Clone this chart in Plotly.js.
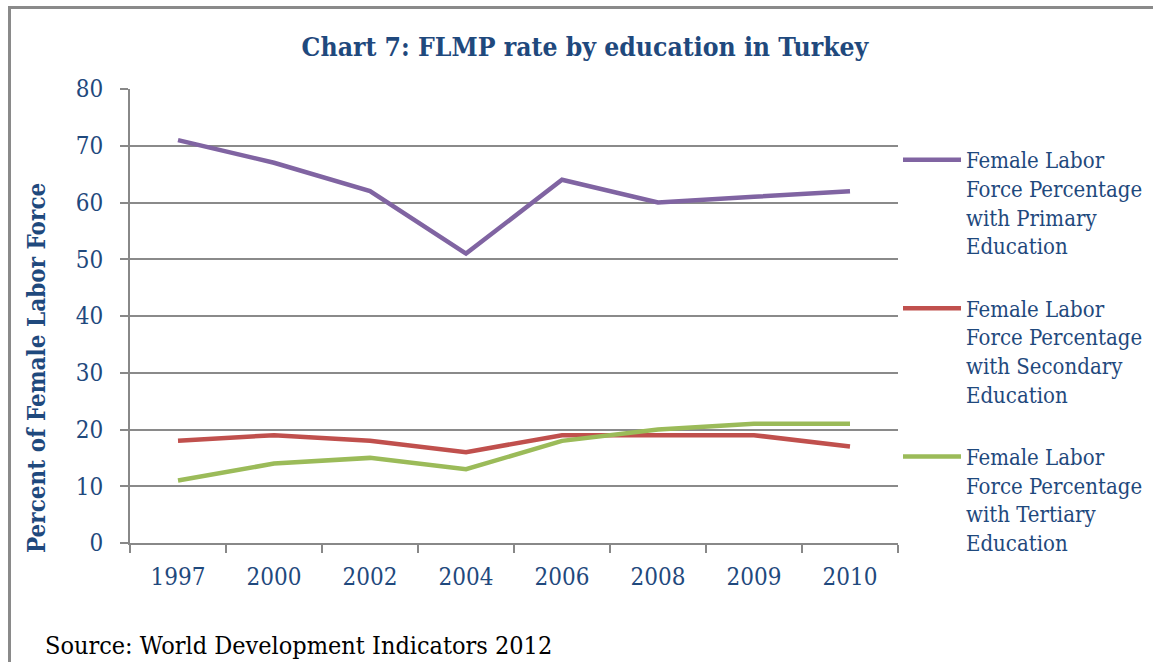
<!DOCTYPE html>
<html>
<head>
<meta charset="utf-8">
<script src="https://cdn.plot.ly/plotly-3.0.1.min.js"></script>
<style>
html,body{margin:0;padding:0;background:#fff;}
#wrap{position:relative;width:1153px;height:662px;overflow:hidden;}
#chart{position:absolute;left:0;top:0;width:1153px;height:662px;}
#frame{position:absolute;left:8px;top:6px;width:1200px;height:700px;border-top:3px solid #8a8a8a;border-left:3px solid #8a8a8a;pointer-events:none;}
</style>
</head>
<body>
<div id="wrap"><div id="chart"></div><div id="frame"></div></div>
<script>
var years = ["1997","2000","2002","2004","2006","2008","2009","2010"];
var primary = [71, 67, 62, 51, 64, 60, 61, 62];
var secondary = [18, 19, 18, 16, 19, 19, 19, 17];
var tertiary = [11, 14, 15, 13, 18, 20, 21, 21];
var seriesNames = [
  "Female Labor<br>Force Percentage<br>with Primary<br>Education",
  "Female Labor<br>Force Percentage<br>with Secondary<br>Education",
  "Female Labor<br>Force Percentage<br>with Tertiary<br>Education"
];
var titleText = "Chart 7: FLMP rate by education in Turkey";
var yTitle = "Percent of Female Labor Force";
var sourceText = "Source: World Development Indicators 2012";

var FONT = "DejaVu Serif Condensed, DejaVu Serif, serif";
var BLUE = "#1F497D";
var colors = ["#8064A2", "#C0504D", "#9BBB59"];
var vals = [primary, secondary, tertiary];

var traces = vals.map(function(v, i){
  return {x: years, y: v, type: "scatter", mode: "lines", name: seriesNames[i],
    legendgroup: "g" + i, line: {color: colors[i], width: 4.5}};
});

var layout = {
  width: 1153, height: 662,
  margin: {l: 130, r: 255, t: 89, b: 119, autoexpand: false},
  paper_bgcolor: "#fff", plot_bgcolor: "#fff",
  font: {family: FONT, color: BLUE},
  title: {text: "<b>" + titleText + "</b>", font: {family: FONT, size: 26.3, color: BLUE},
    x: 585/1153, xanchor: "center", y: 1 - 47/662, yanchor: "middle"},
  xaxis: {type: "category", range: [-0.5, 7.5], tickson: "boundaries", ticks: "outside",
    ticklen: 8, tickwidth: 2, tickcolor: "#888", showline: true, linecolor: "#888", linewidth: 2,
    showgrid: false, tickfont: {size: 24, color: BLUE, family: FONT}, ticklabelstandoff: 11,
    fixedrange: true},
  yaxis: {range: [0, 80], dtick: 10, ticks: "outside", ticklen: 8, tickwidth: 2, tickcolor: "#888",
    showline: true, linecolor: "#888", linewidth: 2, showgrid: true, gridcolor: "#8a8a8a", gridwidth: 2,
    zeroline: false, tickfont: {size: 24, color: BLUE, family: FONT}, ticklabelstandoff: 12},
  showlegend: true,
  legend: {x: 1.0, xanchor: "left", y: 0.89, yanchor: "top", valign: "top", itemwidth: 58,
    font: {size: 22, color: BLUE, family: FONT}, tracegroupgap: 31, bgcolor: "rgba(0,0,0,0)"},
  annotations: [
    {text: "<b>" + yTitle + "</b>", textangle: -90, xref: "paper", yref: "paper",
      x: -94/768, xanchor: "center", y: (543-368)/454, yanchor: "middle", showarrow: false,
      font: {size: 24, color: BLUE, family: FONT}},
    {text: sourceText, xref: "paper", yref: "paper",
    x: -87/768, xanchor: "left", y: -(645-543)/454, yanchor: "middle", showarrow: false,
    font: {size: 25, color: "#000", family: FONT}}]
};

Plotly.newPlot("chart", traces, layout, {displayModeBar: false, staticPlot: true});
</script>
</body>
</html>
